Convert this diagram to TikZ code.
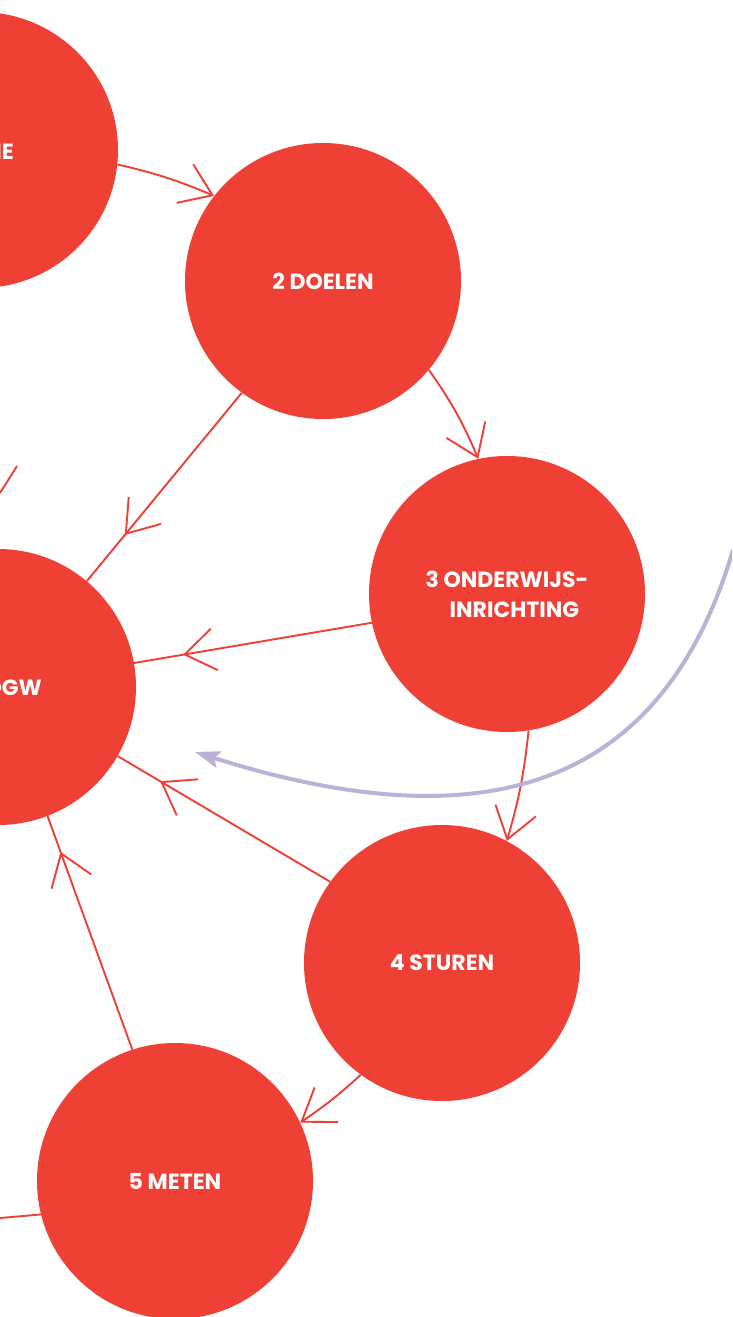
\documentclass[tikz,border=0pt]{standalone}
\usepackage{fontspec}
\setmainfont{Poppins}
\usetikzlibrary{arrows.meta,decorations.markings}
\definecolor{cred}{HTML}{EF4036}
\definecolor{clav}{HTML}{BDB1D8}
\begin{document}
\begin{tikzpicture}[x=1pt,y=-1pt,
  stage/.style={circle,fill=cred,minimum size=276pt,inner sep=0pt,text=white,font=\bfseries\fontsize{22}{30}\selectfont},
  lbl/.style={text=white,inner sep=0pt,font=\bfseries\fontsize{22}{30}\selectfont},
  link/.style={draw=cred,line width=1.9pt},
  barb/.style={-{Straight Barb[length=30pt,width=42pt]}},
  midarrow/.style={postaction={decorate},decoration={markings,mark=at position #1 with {\arrow{Straight Barb[length=30pt,width=42pt]}}}},
  cycle/.style={draw=clav,line width=4pt,-{Stealth[length=25pt,width=17pt,inset=5pt]}}
]
\clip (0,0) rectangle (732,1317);
\fill[white] (0,0) rectangle (732,1317);

\node[stage] (s1) at (-20,150) {};
\node[stage] (s2) at (323,281) {2 DOELEN};
\node[stage,align=left] (s3) at (507,594) {3 ONDERWIJS-\\\hspace*{24pt}INRICHTING};
\node[stage] (s6) at (-2,687) {};
\node[stage] (s4) at (442,963) {4 STUREN};
\node[stage] (s5) at (175,1181) {5 METEN};
\node[lbl,anchor=east] (t1) at (14,152) {IE};
\node[lbl,anchor=east] (t6) at (42,688) {OGW};

\draw[link,barb] (s1.-6.6) to[bend left=5] (s2.142.6);
\draw[link,barb] (s2.-40.3) to[bend left=6] (s3.102);
\draw[link,barb] (s3.-81.3) to[bend left=5] (s4.62.3);
\draw[link,barb] (s4.-126.2) to[bend left=4] (s5.25.1);

\draw[link,midarrow=0.755] (s2.-126.2) -- (s6.50.6);
\draw[link,midarrow=0.794] (s3.192.1) -- (s6.10);
\draw[link,midarrow=0.80] (s4.144.1) -- (s6.-30.3);
\draw[link,midarrow=0.847] (s5.108.8) -- (s6.-69.3);

\coordinate (e1) at (0,493);
\coordinate (e2) at (17,466);
\draw[link] (e1) -- (e2);
\coordinate (e3) at (0,1218);
\draw[link] (e3) -- (s5.194.6);

\coordinate (p0) at (733,550);
\coordinate (p1) at (195,752);
\draw[cycle] (p0) .. controls (661,793) and (480,842) .. (p1);
\end{tikzpicture}
\end{document}
